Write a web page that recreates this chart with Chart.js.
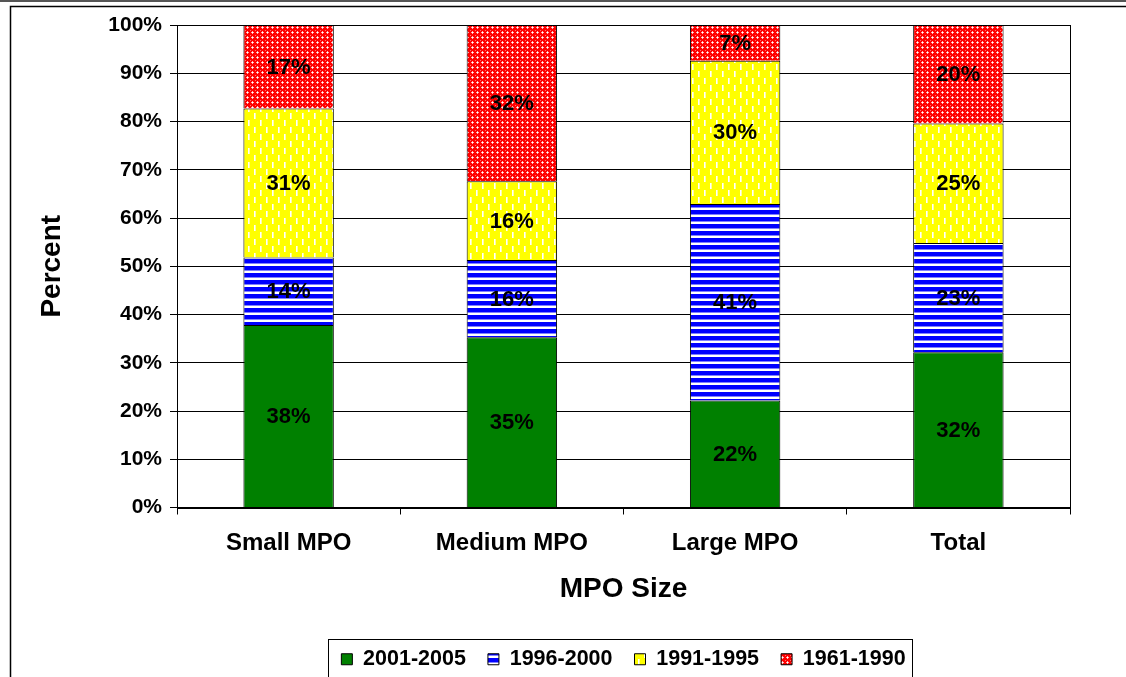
<!DOCTYPE html>
<html>
<head>
<meta charset="utf-8">
<script src="https://cdn.jsdelivr.net/npm/chart.js@4"></script>
<style>
  html, body { margin: 0; padding: 0; background: #fff; }
  canvas { display: block; }
</style>
</head>
<body>
<canvas id="mpoChart" width="1126" height="677"></canvas>
<script>
// data (percent of each MPO group)
const categories = ['Small MPO', 'Medium MPO', 'Large MPO', 'Total'];
const seriesNames = ['2001-2005', '1996-2000', '1991-1995', '1961-1990'];
const s2001 = [37.8, 35.3, 22.2, 32.2];
const s1996 = [14.0, 16.0, 40.7, 22.6];
const s1991 = [30.9, 16.3, 29.7, 24.8];
const s1961 = [17.3, 32.4, 7.4, 20.4];

const FONT = '"Liberation Sans", Arial, sans-serif';

// small tiles for the excel-ish fill patterns
function makePattern(w, h, bg, drawFn) {
  const c = document.createElement('canvas');
  c.width = w; c.height = h;
  const g = c.getContext('2d');
  g.fillStyle = bg;
  g.fillRect(0, 0, w, h);
  drawFn(g);
  return document.getElementById('mpoChart').getContext('2d').createPattern(c, 'repeat');
}

const greenFill = '#008000';
const blueFill = makePattern(7, 7, '#ffffff', g => {
  g.fillStyle = '#0000ff';
  g.fillRect(0, 0, 7, 4);
  g.fillStyle = '#8080ff';
  g.fillRect(0, 4, 7, 1);
});
const yellowFill = makePattern(12, 14, '#ffff00', g => {
  g.fillStyle = '#ffffff';
  g.fillRect(2, 1, 1, 6);
  g.fillRect(8, 8, 1, 6);
  g.fillStyle = '#ffffa0';
  g.fillRect(3, 1, 1, 6);
  g.fillRect(9, 8, 1, 6);
});
const redFill = makePattern(5, 5, '#ff0000', g => {
  g.fillStyle = '#ffb0b0';
  [[1,2],[3,2],[2,1],[2,3]].forEach(p => g.fillRect(p[0], p[1], 1, 1));
  g.fillStyle = '#ffffff';
  g.fillRect(2, 2, 1, 1);
  g.fillStyle = '#ff6a6a';
  g.fillRect(0, 0, 1, 1);
});

// frame round the whole picture + plot area border
const framePlugin = {
  id: 'framePlugin',
  beforeDraw(chart) {
    const ctx = chart.ctx;
    ctx.save();
    ctx.fillStyle = '#fff';
    ctx.fillRect(0, 0, chart.width, chart.height);
    ctx.fillStyle = '#555';
    ctx.fillRect(0, 0, chart.width, 2);
    ctx.strokeStyle = '#000';
    ctx.lineWidth = 1.5;
    ctx.strokeRect(10.5, 6.5, chart.width + 20, chart.height + 20);
    ctx.restore();
  },
  beforeDatasetsDraw(chart) {
    const a = chart.chartArea;
    const ctx = chart.ctx;
    ctx.save();
    ctx.strokeStyle = '#000';
    ctx.lineWidth = 1;
    ctx.strokeRect(Math.round(a.left) + 0.5, Math.round(a.top) + 0.5,
      Math.round(a.right - a.left), Math.round(a.bottom - a.top));
    ctx.restore();
  },
  afterDraw(chart) {
    // box round the legend
    const boxes = chart.legend.legendHitBoxes;
    if (!boxes || !boxes.length) return;
    const last = boxes[boxes.length - 1];
    const x0 = Math.round(boxes[0].left - 13) + 0.5;
    const x1 = Math.round(last.left + last.width + 6) + 0.5;
    const ctx = chart.ctx;
    ctx.save();
    ctx.strokeStyle = '#000';
    ctx.lineWidth = 1;
    ctx.strokeRect(x0, 639.5, x1 - x0, 100);
    ctx.restore();
  }
};

// percent labels inside each segment
const barLabels = {
  id: 'barLabels',
  afterDatasetsDraw(chart) {
    const ctx = chart.ctx;
    ctx.save();
    ctx.font = 'bold 22px ' + FONT;
    ctx.fillStyle = '#000';
    ctx.textAlign = 'center';
    ctx.textBaseline = 'middle';
    chart.data.datasets.forEach((ds, i) => {
      chart.getDatasetMeta(i).data.forEach((bar, j) => {
        ctx.fillText(Math.round(ds.data[j]) + '%', bar.x, (bar.y + bar.base) / 2 + 1);
      });
    });
    ctx.restore();
  }
};

const fills = [greenFill, blueFill, yellowFill, redFill];
const values = [s2001, s1996, s1991, s1961];

new Chart(document.getElementById('mpoChart'), {
  type: 'bar',
  data: {
    labels: categories,
    datasets: seriesNames.map((name, i) => ({
      label: name,
      data: values[i],
      backgroundColor: fills[i],
      borderColor: '#000',
      borderWidth: 1,
      barPercentage: 0.405,
      categoryPercentage: 1.0
    }))
  },
  options: {
    responsive: false,
    animation: false,
    devicePixelRatio: 1,
    layout: { padding: { top: 25, left: 0, right: 56, bottom: -3 } },
    plugins: {
      tooltip: { enabled: false },
      legend: {
        position: 'bottom',
        fullSize: false,
        labels: {
          color: '#000',
          font: { family: FONT, size: 21.5, weight: 'bold' },
          boxWidth: 11,
          boxHeight: 11,
          padding: 22
        }
      }
    },
    scales: {
      x: {
        stacked: true,
        afterFit: s => { s.height = 119; },
        grid: { offset: true, drawOnChartArea: false, drawTicks: true, tickLength: 7, color: '#000' },
        border: { display: true, color: '#000', width: 1 },
        ticks: { color: '#000', padding: 14, font: { family: FONT, size: 24, weight: 'bold' } },
        title: {
          display: true, text: 'MPO Size', color: '#000',
          font: { family: FONT, size: 28, weight: 'bold' },
          padding: { top: 0, bottom: 20 }
        }
      },
      y: {
        stacked: true,
        min: 0,
        max: 100,
        afterFit: s => { s.width = 177; },
        grid: { color: '#000', lineWidth: 1, tickLength: 7 },
        border: { display: true, color: '#000', width: 1 },
        ticks: {
          stepSize: 10,
          color: '#000',
          padding: 8,
          font: { family: FONT, size: 21, weight: 'bold' },
          callback: v => v + '%'
        },
        title: {
          display: true, text: 'Percent', color: '#000',
          font: { family: FONT, size: 28, weight: 'bold' },
          padding: { top: 35, bottom: 0 }
        }
      }
    }
  },
  plugins: [framePlugin, barLabels]
});
</script>
</body>
</html>
